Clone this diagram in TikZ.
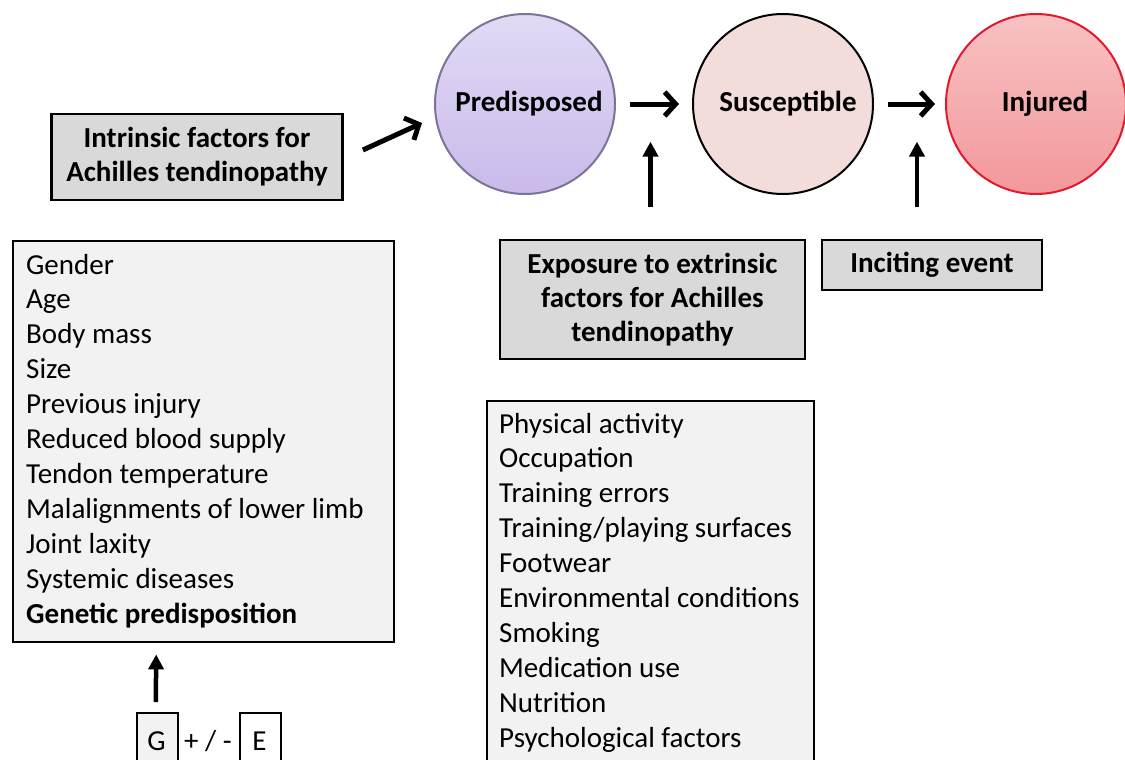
\documentclass[tikz,border=0pt]{standalone}
\usepackage{fontspec}
\setmainfont{Carlito}
\usetikzlibrary{arrows.meta,calc}
\definecolor{hdrgray}{HTML}{D9D9D9}
\definecolor{listgray}{HTML}{F2F2F2}
\definecolor{predtop}{HTML}{E2DAF5}
\definecolor{predbot}{HTML}{C9BAEA}
\definecolor{predline}{HTML}{7D7396}
\definecolor{susfill}{HTML}{F2DDDB}
\definecolor{injtop}{HTML}{F8C2C3}
\definecolor{injbot}{HTML}{F3989B}
\definecolor{injline}{HTML}{E2192C}
\begin{document}
\begin{tikzpicture}[x=1pt,y=-1pt,
  font=\fontsize{29}{35}\selectfont,
  hdr/.style={draw=black, line width=2.8pt, fill=hdrgray, font=\fontsize{29}{34}\selectfont\bfseries, align=center, inner sep=0pt},
  listbox/.style={draw=black, line width=2.4pt, fill=listgray, inner sep=0pt, anchor=north west},
  stage/.style={circle, minimum size=180pt, inner sep=0pt, line width=2pt, font=\fontsize{29}{34}\selectfont\bfseries},
  item/.style={anchor=base west, inner sep=0pt},
  chev/.style={-{Straight Barb[length=11pt,width=24pt,line width=5pt]}, line width=5pt},
  uparr/.style={-{Triangle[length=15pt,width=15pt]}, line width=4.5pt},
  smallbox/.style={draw=black, line width=1.6pt, inner sep=0pt, anchor=north west, minimum width=41pt, minimum height=60pt}
]
\useasboundingbox (0,0) rectangle (1125,760);
\clip (0,0) rectangle (1125,760);
\fill[white] (0,0) rectangle (1125,760);

% stages
\node[stage, draw=predline, top color=predtop, bottom color=predbot] (pre) at (525,104) {\hspace*{8pt}Predisposed};
\node[stage, draw=black, fill=susfill] (sus) at (783,104) {\hspace*{10pt}Susceptible};
\node[stage, draw=injline, top color=injtop, bottom color=injbot] (inj) at (1036,104) {\hspace*{18pt}Injured};

% header boxes
\node[hdr, minimum width=291pt, minimum height=86pt] (intr) at (197,157) {Intrinsic factors for\\Achilles tendinopathy};
\node[hdr, minimum width=305pt, minimum height=119pt] (expo) at (652.5,299.5) {Exposure to extrinsic\\factors for Achilles\\tendinopathy};
\node[hdr, minimum width=220pt, minimum height=50pt] (inci) at (932,265) {Inciting event};

% list boxes
\node[listbox, minimum width=381pt, minimum height=401pt] (ilist) at (12,240) {};
\node[listbox, minimum width=327pt, minimum height=380pt] (elist) at (486,400) {};

\foreach \t [count=\i from 0] in {Gender, Age, Body mass, Size, Previous injury, Reduced blood supply, Tendon temperature, Malalignments of lower limb, Joint laxity, Systemic diseases}
  \node[item] at (26,{274+34.9*\i}) {\t};
\node[item, font=\fontsize{29}{35}\selectfont\bfseries] at (26,623) {Genetic predisposition};

\foreach \t [count=\i from 0] in {Physical activity, Occupation, Training errors, Training/playing surfaces, Footwear, Environmental conditions, Smoking, Medication use, Nutrition, Psychological factors}
  \node[item] at (499,{433+34.9*\i}) {\t};

% G +/- E
\node[smallbox, fill=listgray] (G) at (136,712) {};
\node[smallbox, fill=white] (E) at (239,712) {};
\node[anchor=base, inner sep=0pt] at (156.5,750) {G};
\node[anchor=base, inner sep=0pt] at (259.5,750) {E};
\node[anchor=base, inner sep=0pt] (pm) at (208,750) {+ / -};

% arrows
\draw[chev] ($(intr.east)+(19,-7)$) -- ($(pre.west)+(-12,19)$);
\draw[chev, shorten <=14pt, shorten >=13pt] (pre) -- (sus);
\draw[chev, shorten <=14pt, shorten >=10pt] (sus) -- (inj);
\draw[uparr] ($(expo.north)+(-2,-32)$) -- ($(expo.north)+(-2,-97)$);
\draw[uparr] ($(inci.north)+(-15,-32)$) -- ($(inci.north)+(-15,-97)$);
\draw[uparr] ($(G.north)+(-1.5,-10)$) -- ($(ilist.south)+(-47.5,11)$);
\end{tikzpicture}
\end{document}
